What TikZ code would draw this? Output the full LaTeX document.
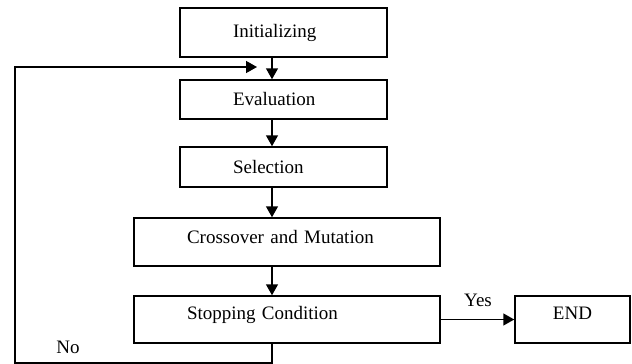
\documentclass[tikz,border=0pt]{standalone}
\usepackage{fontspec}
\setmainfont{Liberation Serif}
\usepackage{tikz}
\usetikzlibrary{
	arrows.meta,
	calc,
	positioning
}

\tikzset{
	stepbox/.style={draw,line width=1.5pt,inner xsep=53pt,inner ysep=0pt,align=left,font=\fontsize{19}{23}\selectfont},
	endbox/.style={draw,line width=1.5pt,inner sep=0pt,font=\fontsize{19}{23}\selectfont},
	flow/.style={line width=1.5pt,-{Triangle[length=11pt,width=12pt]}},
	tag/.style={font=\fontsize{19}{23}\selectfont}
}

\begin{document}
\begin{tikzpicture}[x=1pt,y=-1pt]
		\useasboundingbox (0,0) rectangle (632,364);
		
		\coordinate (spine) at (272,0);
		\coordinate (loopBot) at (15,363);
		\coordinate (loopIn) at (257,67);
		
		% boxes
		\node[stepbox,text width=101pt,minimum height=49pt] (init) at (283.5,32.5) {Initializing};
		\node[stepbox,text width=101pt,minimum height=39pt] (eval) at (283.5,99.5) {Evaluation};
		\node[stepbox,text width=101pt,minimum height=40pt] (select) at (283.5,167) {Selection};
		\node[stepbox,text width=200pt,minimum height=48pt,text depth=10pt] (cross) at (287,242) {Crossover and Mutation};
		\node[stepbox,text width=200pt,minimum height=47pt,text depth=13pt] (stop) at (287,319.5) {Stopping Condition};
		\node[endbox,minimum width=115pt,minimum height=47pt,text depth=13pt] (end) at (572.5,319.5) {END};
		
		% main flow
		\draw[flow] (init.south -| spine) -- (eval.north -| spine);
		\draw[flow] (eval.south -| spine) -- (select.north -| spine);
		\draw[flow] (select.south -| spine) -- (cross.north -| spine);
		\draw[flow] (cross.south -| spine) -- (stop.north -| spine);
		
		% yes branch
		\draw[flow] (stop.east) -- (end.west);
		
		% no branch, back to evaluation
		\draw[flow] (stop.south -| spine) |- (loopBot) |- (loopIn);
		
		% labels
		\node[tag] (yes) at (478,300) {Yes};
		\node[tag] (no) at (68,347) {No};
	\end{tikzpicture}
\end{document}
